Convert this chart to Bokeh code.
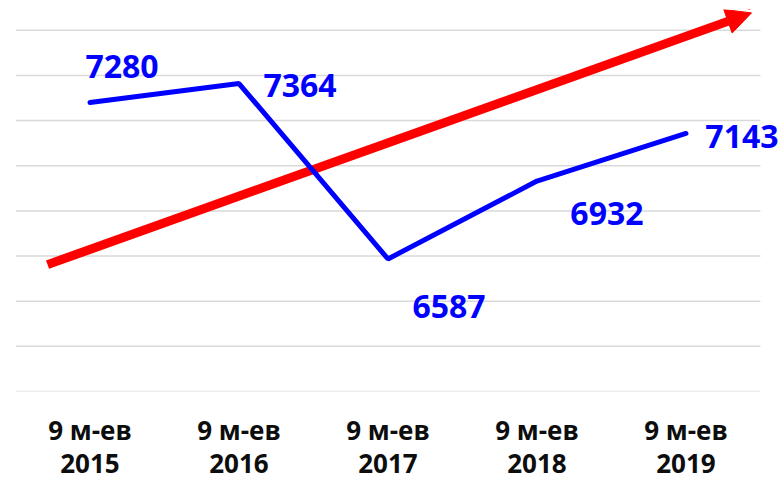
from bokeh.plotting import figure
from bokeh.models import (ColumnDataSource, LabelSet, Arrow, NormalHead, FixedTicker, Range1d)
from bokeh.core.properties import value
from bokeh.embed import file_html
from bokeh.resources import INLINE

# --- data ---
categories = ["9 м-ев\n2015", "9 м-ев\n2016", "9 м-ев\n2017", "9 м-ев\n2018", "9 м-ев\n2019"]
values = [7280, 7364, 6587, 6932, 7143]
y_ticks = [6000, 6200, 6400, 6600, 6800, 7000, 7200, 7400, 7600]
trend_start = (-0.285, 6562)
trend_end = (4.44, 7677)

xs = list(range(len(categories)))
labels = [str(v) for v in values]
# label placement (pixels, relative to point)
lab_dx = [32, 61, 61, 70, 56]
lab_dy = [36, -2, -48, -32, -3]

src = ColumnDataSource(dict(x=xs, y=values, label=labels, dx=lab_dx, dy=lab_dy))
grid_src = ColumnDataSource(dict(x0=[-0.5] * len(y_ticks), x1=[4.5] * len(y_ticks), y=y_ticks))

p = figure(frame_width=767, frame_height=382, output_backend="svg", toolbar_location=None,
           x_range=Range1d(-0.5, 4.648), y_range=Range1d(6000, 7692),
           min_border_left=15, min_border_right=0, min_border_top=9, min_border_bottom=0)
p.outline_line_color = None
p.background_fill_color = "white"

# grid (drawn as segments so they stop short of the right-hand label)
p.xgrid.visible = False
p.ygrid.visible = False
p.segment(x0="x0", y0="y", x1="x1", y1="y", source=grid_src,
          line_color="#d9d9d9", line_width=1.5, level="underlay")

# axes
p.yaxis.visible = False
p.xaxis.ticker = FixedTicker(ticks=xs)
p.xaxis.major_label_overrides = {i: c for i, c in zip(xs, categories)}
p.xaxis.axis_line_color = None
p.xaxis.major_tick_line_color = None
p.xaxis.minor_tick_line_color = None
p.xaxis.major_tick_out = 0
p.xaxis.major_tick_in = 0
p.xaxis.major_label_standoff = 20
p.xaxis.major_label_text_font = "Open Sans"
p.xaxis.major_label_text_font_style = "bold"
p.xaxis.major_label_text_font_size = "26px"
p.xaxis.major_label_text_color = "#0d0d0d"
p.xaxis.major_label_text_line_height = 0.92

# trend arrow
arrow = Arrow(end=NormalHead(size=25, fill_color="#ff0000", line_color="#ff0000"),
              x_start=trend_start[0], y_start=trend_start[1],
              x_end=trend_end[0], y_end=trend_end[1],
              line_color="#ff0000", line_width=9, level="underlay")
p.add_layout(arrow)

# data line
p.line("x", "y", source=src, line_color="#0000ff", line_width=5, line_cap="round")

labs = LabelSet(x="x", y="y", text="label", source=src, x_offset="dx", y_offset="dy",
                text_align="center", text_baseline="middle",
                text_font=value("Open Sans"), text_font_style="bold", text_font_size="32px",
                text_color="#0000ff")
p.add_layout(labs)

open("out.html", "w").write(file_html(p, INLINE))
